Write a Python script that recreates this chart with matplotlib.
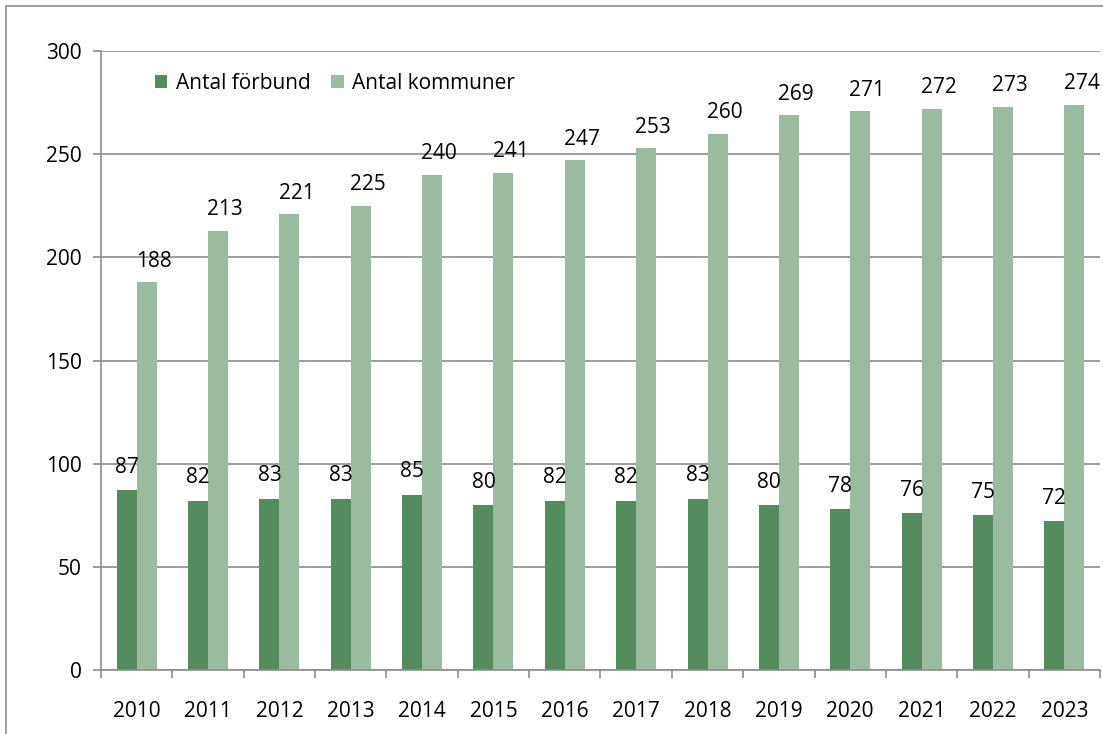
import matplotlib.pyplot as plt
import numpy as np
from matplotlib.patches import Rectangle

years = ["2010", "2011", "2012", "2013", "2014", "2015", "2016",
         "2017", "2018", "2019", "2020", "2021", "2022", "2023"]
antal_forbund = [87, 82, 83, 83, 85, 80, 82, 82, 83, 80, 78, 76, 75, 72]
antal_kommuner = [188, 213, 221, 225, 240, 241, 247, 253, 260, 269, 271, 272, 273, 274]

plt.rcParams["font.family"] = ["Open Sans", "DejaVu Sans"]

dark = "#548b5f"
light = "#9bbba0"
gridc = "#8c8c8c"
fs = 15

fig = plt.figure(figsize=(11.03, 7.34), dpi=100)
ax = fig.add_axes([101 / 1103, 64 / 734, 999 / 1103, 619 / 734])

x = np.arange(len(years))
w = 0.28
ax.bar(x - w / 2, antal_forbund, w, color=dark, label="Antal förbund", zorder=2)
ax.bar(x + w / 2, antal_kommuner, w, color=light, label="Antal kommuner", zorder=2)

for xi, v in zip(x, antal_forbund):
    ax.text(xi - w / 2, v + 6, str(v), ha="center", va="bottom", fontsize=fs)
for xi, v in zip(x, antal_kommuner):
    ax.text(xi + w / 2 + 0.1, v + 5, str(v), ha="center", va="bottom", fontsize=fs)

ax.set_xlim(-0.5, len(years) - 0.5)
ax.set_ylim(0, 300)
ax.set_yticks(range(0, 301, 50))
ax.yaxis.grid(True, color=gridc, linewidth=1.2, zorder=0)
ax.set_axisbelow(True)

ax.set_xticks(x)
ax.set_xticklabels(years, fontsize=fs)
ax.set_xticks(np.arange(-0.5, len(years), 1), minor=True)
ax.tick_params(axis="x", which="major", length=0, pad=22)
ax.tick_params(axis="x", which="minor", length=6, color=gridc, width=1.2)
ax.tick_params(axis="y", length=6, color=gridc, width=1.2, labelsize=fs, pad=8)

for s in ["top", "right"]:
    ax.spines[s].set_visible(False)
for s in ["left", "bottom"]:
    ax.spines[s].set_color(gridc)
    ax.spines[s].set_linewidth(1.2)

ax.legend(loc="upper left", bbox_to_anchor=(0.035, 0.995), ncol=2, frameon=False,
          fontsize=fs, handlelength=0.6, handleheight=0.6, handletextpad=0.4,
          columnspacing=1.0)

fig.patches.append(Rectangle((6 / 1103, -0.01), 1.02, 728 / 734 + 0.01,
                             transform=fig.transFigure, fill=False,
                             edgecolor=gridc, linewidth=1.2))

fig.savefig("out.png", dpi=100)
